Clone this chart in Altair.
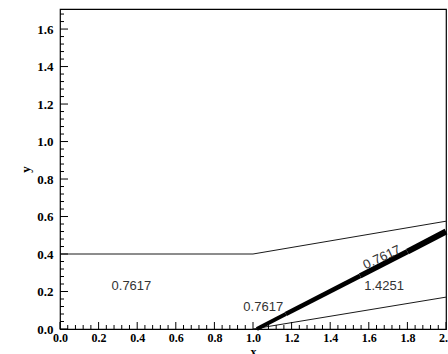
import altair as alt
import pandas as pd

# ---- data ----
upper_x = [0.0, 1.0, 2.0]
upper_y = [0.4, 0.4, 0.575]

wedge_x = [1.0, 2.0]
wedge_y = [0.0, 0.17]

shock_x = [1.02, 1.17, 1.17, 1.555, 1.555, 1.80, 1.80, 2.0]
shock_y = [0.0, 0.08, 0.08, 0.283, 0.283, 0.413, 0.413, 0.52]
shock_seg = ["a", "a", "b", "b", "c", "c", "d", "d"]

label_text = ["0.7617", "0.7617", "1.4251"]
label_x = [0.37, 1.053, 1.679]
label_y = [0.229, 0.115, 0.232]

rot_text = ["0.7617"]
rot_x = [1.668]
rot_y = [0.382]

x_major = [0.0, 0.2, 0.4, 0.6, 0.8, 1.0, 1.2, 1.4, 1.6, 1.8, 2.0]
x_minor = [round(i * 0.04, 2) for i in range(51) if i % 5]
y_major = [0.0, 0.2, 0.4, 0.6, 0.8, 1.0, 1.2, 1.4, 1.6]
y_minor = [round(i * 0.04, 2) for i in range(43) if i % 5]

# ---- layout / style ----
W, H = 386, 320
xs = alt.Scale(domain=[0, 2], nice=False, zero=False)
ys = alt.Scale(domain=[0, 1.707], nice=False, zero=False)
LINE = "#1a1a1a"
SERIF = "Liberation Serif"

x_axis = alt.Axis(values=x_major, format=".1f", title="x", ticks=False, domain=False,
                  grid=False, labelFont=SERIF, labelFontWeight="bold", labelFontSize=12,
                  labelColor="black", labelPadding=3, labelFlush=False, labelOverlap=False,
                  titleFont=SERIF, titleFontWeight="bold", titleFontSize=12, titleColor="black",
                  titleX=W / 2, titleY=26, titleBaseline="alphabetic", titleAlign="center")
y_axis = alt.Axis(values=y_major, format=".1f", title="y", ticks=False, domain=False,
                  grid=False, labelFont=SERIF, labelFontWeight="bold", labelFontSize=13,
                  labelColor="black", labelPadding=7, labelFlush=False, labelOverlap=False,
                  titleFont=SERIF, titleFontWeight="bold", titleFontSize=13, titleColor="black",
                  titleX=-35, titleY=H / 2, titleAngle=270, titleBaseline="middle",
                  titleAlign="center")


def X(f):
    return alt.X(f, scale=xs, axis=x_axis)


def Y(f):
    return alt.Y(f, scale=ys, axis=y_axis)


upper = alt.Chart(pd.DataFrame({"x": upper_x, "y": upper_y})).mark_line(
    color=LINE, strokeWidth=1).encode(x=X("x:Q"), y=Y("y:Q"))

wedge = alt.Chart(pd.DataFrame({"x": wedge_x, "y": wedge_y})).mark_line(
    color=LINE, strokeWidth=1).encode(x=X("x:Q"), y=Y("y:Q"))

shock = alt.Chart(pd.DataFrame({"x": shock_x, "y": shock_y, "seg": shock_seg})).mark_line(
    color="black", strokeCap="butt").encode(
    x=X("x:Q"), y=Y("y:Q"),
    detail="seg:N",
    strokeWidth=alt.StrokeWidth("seg:N", legend=None,
                                scale=alt.Scale(domain=["a", "b", "c", "d"], range=[4, 6, 1, 6])))

labels = alt.Chart(pd.DataFrame({"x": label_x, "y": label_y, "t": label_text})).mark_text(
    font="Liberation Sans", fontSize=13, color="#333333", align="center",
    baseline="middle").encode(x=X("x:Q"), y=Y("y:Q"), text="t:N")

rot = alt.Chart(pd.DataFrame({"x": rot_x, "y": rot_y, "t": rot_text})).mark_text(
    font="Liberation Sans", fontSize=13, color="#333333", align="center",
    baseline="middle", angle=335).encode(x=X("x:Q"), y=Y("y:Q"), text="t:N")

xt_major = alt.Chart(pd.DataFrame({"x": x_major})).mark_rule(color="black", strokeWidth=1).encode(
    x=X("x:Q"), y=alt.value(H), y2=alt.value(H - 7))
xt_minor = alt.Chart(pd.DataFrame({"x": x_minor})).mark_rule(color="black", strokeWidth=1).encode(
    x=X("x:Q"), y=alt.value(H), y2=alt.value(H - 4))
yt_major = alt.Chart(pd.DataFrame({"y": y_major})).mark_rule(color="black", strokeWidth=1).encode(
    y=Y("y:Q"), x=alt.value(0), x2=alt.value(8))
yt_minor = alt.Chart(pd.DataFrame({"y": y_minor})).mark_rule(color="black", strokeWidth=1).encode(
    y=Y("y:Q"), x=alt.value(0), x2=alt.value(4))

chart = alt.layer(upper, wedge, shock, labels, rot, xt_major, xt_minor, yt_major, yt_minor).properties(
    width=W, height=H,
    autosize=alt.AutoSizeParams(type="none"),
    padding={"left": 60, "top": 9, "right": 2, "bottom": 25},
    background="white",
).configure_view(stroke="black", strokeWidth=1.2)

chart.save("out.html", embed_options={"renderer": "svg", "actions": False})
